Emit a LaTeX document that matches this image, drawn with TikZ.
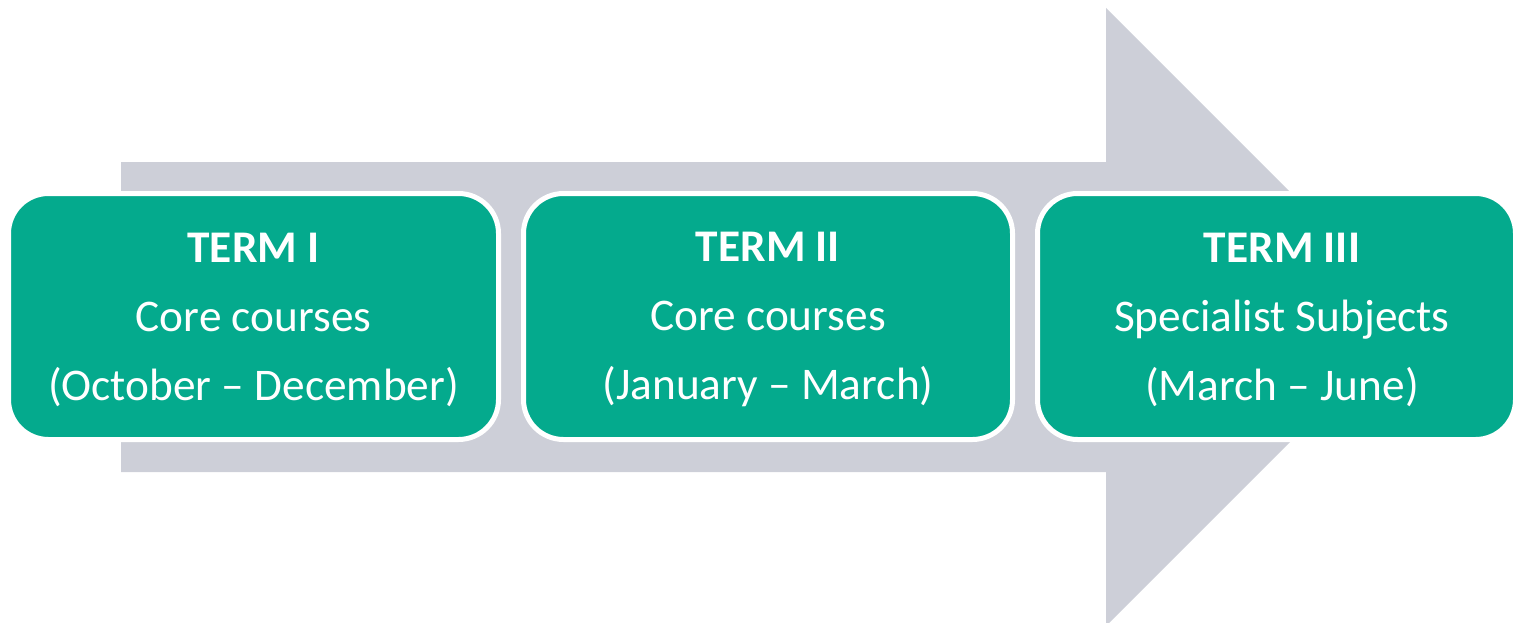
\documentclass[tikz,border=0pt]{standalone}
\usepackage{fontspec}
\setmainfont{Carlito}
\definecolor{teal}{RGB}{4,170,141}
\definecolor{arrowgray}{RGB}{205,207,216}
\begin{document}
\begin{tikzpicture}[x=1pt,y=-1pt,
  termbox/.style={fill=teal,draw=white,line width=5pt,rounded corners=40pt,
    minimum height=246pt,inner sep=0pt},
  termtext/.style={text=white,align=center,font=\fontsize{45.3}{69}\selectfont,inner sep=0pt}]
\useasboundingbox (0,0) rectangle (1515,623);
\clip (0,0) rectangle (1515,623);
\fill[arrowgray] (121,162) -- (1106,162) -- (1106,8) -- (1415,317) -- (1106,626) -- (1106,472) -- (121,472) -- cycle;
\node[termbox,minimum width=490pt] (b1) at (253.5,316.5) {};
\node[termbox,minimum width=489pt] (b2) at (768,316.5) {};
\node[termbox,minimum width=478pt] (b3) at (1276.5,316.5) {};
\node[termtext] (t1) at (253.5,319.5) {\textbf{TERM I}\\Core courses\\(October – December)};
\node[termtext] (t2) at (768,319.5) {\textbf{TERM II}\\Core courses\\(January – March)};
\node[termtext] (t3) at (1282,319.5) {\textbf{TERM III}\\Specialist Subjects\\(March – June)};
\end{tikzpicture}
\end{document}
